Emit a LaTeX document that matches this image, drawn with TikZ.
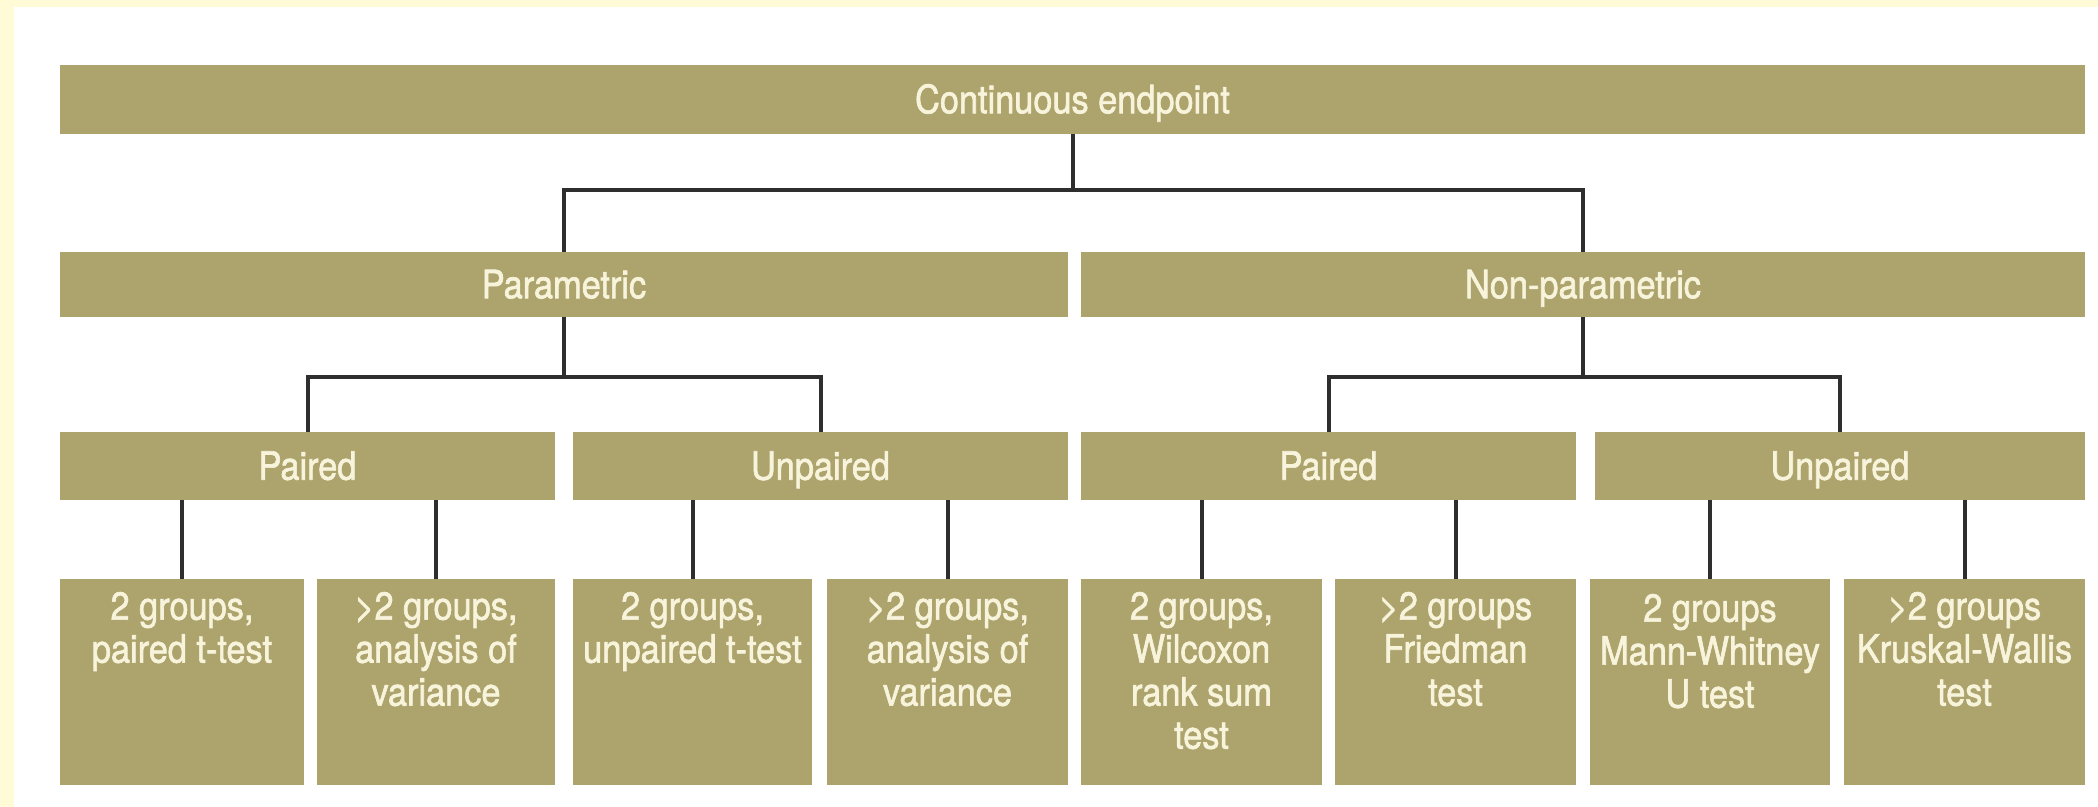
\documentclass[tikz,border=0pt]{standalone}
\usepackage{fontspec}
\setmainfont{TeX Gyre Heros}[FakeStretch=0.88, FakeBold=1.6]
\definecolor{barfill}{HTML}{ADA36D}
\definecolor{bartext}{HTML}{F8F4DC}
\definecolor{linkcol}{HTML}{2E2E2E}
\definecolor{framecol}{HTML}{FFFBD6}
\begin{document}
\begin{tikzpicture}[x=0.5pt,y=-0.5pt,
  bar/.style={fill=barfill, draw=none, inner sep=0pt, text=bartext,
    font=\fontsize{19.5pt}{21.5pt}\selectfont, text height=13.7pt, text depth=0pt},
  leaf/.style={fill=barfill, draw=none, inner sep=0pt, minimum height=103pt},
  leaftext/.style={anchor=north, inner sep=0pt, align=center, text=bartext,
    font=\fontsize{19.5pt}{21.5pt}\selectfont},
  link/.style={draw=linkcol, line width=2pt}]
\useasboundingbox (0,0) rectangle (2098,807);
% page frame
\fill[white] (0,0) rectangle (2098,807);
\fill[framecol] (0,0) rectangle (14,807);
\fill[framecol] (0,0) rectangle (2098,7);

% level 1
\node[bar, minimum width=1012.5pt, minimum height=34.5pt] (top) at (1072.5,99.5) {Continuous endpoint};
% level 2
\node[bar, minimum width=504pt, minimum height=32.5pt] (par) at (564,284.5) {Parametric};
\node[bar, minimum width=502pt, minimum height=32.5pt] (npar) at (1583,284.5) {Non-parametric};
% level 3
\node[bar, minimum width=247.5pt, minimum height=34pt] (pp) at (307.5,466) {Paired};
\node[bar, minimum width=247.5pt, minimum height=34pt] (pu) at (820.5,466) {Unpaired};
\node[bar, minimum width=247.5pt, minimum height=34pt] (np) at (1328.5,466) {Paired};
\node[bar, minimum width=245pt, minimum height=34pt] (nu) at (1840,466) {Unpaired};
% level 4
\node[leaf, minimum width=122pt]   (b1) at (182,682) {};
\node[leaf, minimum width=119pt]   (b2) at (436,682) {};
\node[leaf, minimum width=119.5pt] (b3) at (692.5,682) {};
\node[leaf, minimum width=120.5pt] (b4) at (947.5,682) {};
\node[leaf, minimum width=120.5pt] (b5) at (1201.5,682) {};
\node[leaf, minimum width=120.5pt] (b6) at (1455.5,682) {};
\node[leaf, minimum width=120pt]   (b7) at (1710,682) {};
\node[leaf, minimum width=120.5pt] (b8) at (1964.5,682) {};

\node[leaftext, yshift=-6.5pt] (t1) at (b1.north) {2 groups,\\paired t-test};
\node[leaftext, yshift=-6.5pt] (t2) at (b2.north) {>2 groups,\\analysis of\\variance};
\node[leaftext, yshift=-6.5pt] (t3) at (b3.north) {2 groups,\\unpaired t-test};
\node[leaftext, yshift=-6.5pt] (t4) at (b4.north) {>2 groups,\\analysis of\\variance};
\node[leaftext, yshift=-6.5pt] (t5) at (b5.north) {2 groups,\\Wilcoxon\\rank sum\\test};
\node[leaftext, yshift=-6.5pt] (t6) at (b6.north) {>2 groups\\Friedman\\test};
\node[leaftext, yshift=-7.5pt] (t7) at (b7.north) {2 groups\\Mann-Whitney\\U test};
\node[leaftext, yshift=-6.5pt] (t8) at (b8.north) {>2 groups\\Kruskal-Wallis\\test};

% connectors
\draw[link] (top.south) -- ++(0,56) -| (par.north);
\draw[link] (top.south) -- ++(0,56) -| (npar.north);
\draw[link] (par.south) -- ++(0,60) -| (pp.north);
\draw[link] (par.south) -- ++(0,60) -| (pu.north);
\draw[link] (npar.south) -- ++(0,60) -| (np.north);
\draw[link] (npar.south) -- ++(0,60) -| (nu.north);
\draw[link] (b1.north) -- (b1.north |- pp.south);
\draw[link] (b2.north) -- (b2.north |- pp.south);
\draw[link] (b3.north) -- (b3.north |- pu.south);
\draw[link] (b4.north) -- (b4.north |- pu.south);
\draw[link] (b5.north) -- (b5.north |- np.south);
\draw[link] (b6.north) -- (b6.north |- np.south);
\draw[link] (b7.north) -- (b7.north |- nu.south);
\draw[link] (b8.north) -- (b8.north |- nu.south);
\end{tikzpicture}
\end{document}
